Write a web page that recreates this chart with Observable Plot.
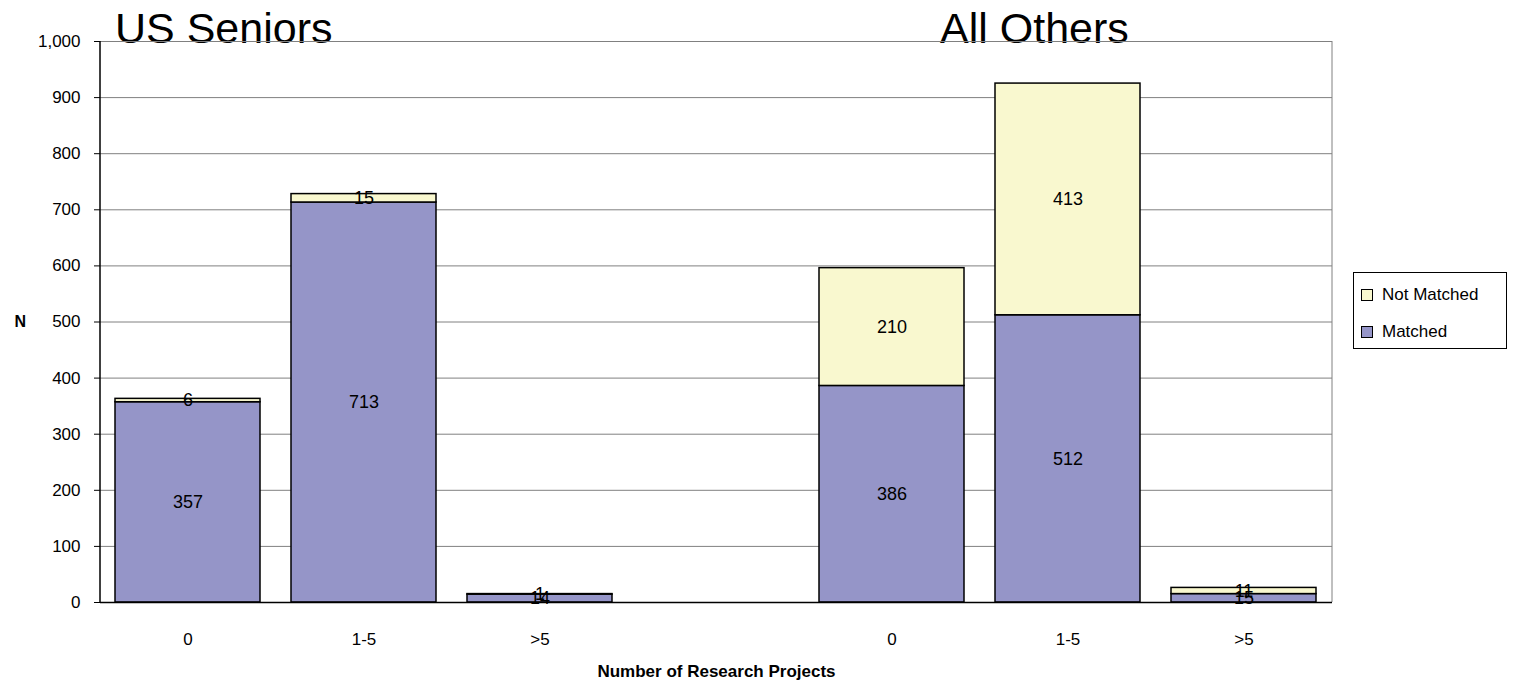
<!DOCTYPE html>
<html>
<head>
<meta charset="utf-8">
<script src="https://cdn.jsdelivr.net/npm/d3@7"></script>
<script src="https://cdn.jsdelivr.net/npm/@observablehq/plot@0.6"></script>
<style>
  html, body { margin: 0; padding: 0; background: #fff; }
  #wrap { position: relative; width: 1520px; height: 688px; font-family: "Liberation Sans", Arial, sans-serif; }
  #legend { position: absolute; left: 1353px; top: 272px; width: 154px; height: 77px; border: 1px solid #000; box-sizing: border-box; font-size: 17px; color: #000; }
  .item { position: absolute; left: 7px; display: flex; align-items: center; }
  .sw { width: 10px; height: 10px; border: 1.5px solid #000; margin-right: 9px; }
</style>
</head>
<body>
<div id="wrap">
  <div id="chart"></div>
  <div id="legend"></div>
</div>
<script>
const groups = ["US Seniors", "All Others"];
const projects = ["0", "1-5", ">5"];
const statuses = ["Matched", "Not Matched"];
const matchedUS = [357, 713, 14];
const notMatchedUS = [6, 15, 1];
const matchedAO = [386, 512, 15];
const notMatchedAO = [210, 413, 11];
const yTicks = [0, 100, 200, 300, 400, 500, 600, 700, 800, 900, 1000];
const colors = { "Matched": "#9595C8", "Not Matched": "#F9F8CF" };

const xDomain = [
  ...projects.map(p => `${groups[0]}|${p}`),
  "gap",
  ...projects.map(p => `${groups[1]}|${p}`)
];

const data = [];
projects.forEach((p, i) => {
  data.push({ key: `${groups[0]}|${p}`, status: "Matched", value: matchedUS[i] });
  data.push({ key: `${groups[0]}|${p}`, status: "Not Matched", value: notMatchedUS[i] });
  data.push({ key: `${groups[1]}|${p}`, status: "Matched", value: matchedAO[i] });
  data.push({ key: `${groups[1]}|${p}`, status: "Not Matched", value: notMatchedAO[i] });
});

const stackOpts = { x: "key", y: "value", z: "status", order: statuses };
const titleStyle = { y: () => 1000, textAnchor: "start", lineAnchor: "bottom", fontSize: 43, fill: "#000", dy: 1 };

const chart = Plot.plot({
  width: 1520,
  height: 688,
  marginLeft: 100,
  marginRight: 188,
  marginTop: 41,
  marginBottom: 86,
  style: { fontFamily: "Liberation Sans, Arial, sans-serif", fontSize: "17px", color: "#000", background: "#fff" },
  x: { type: "band", domain: xDomain, paddingInner: 0.175, paddingOuter: 0.0875, label: null },
  y: { domain: [0, 1000], label: null },
  color: { domain: statuses, range: statuses.map(s => colors[s]) },
  marks: [
    Plot.text([groups[0]], { ...titleStyle, x: () => xDomain[0], text: d => d, dx: -73 }),
    Plot.text([groups[1]], { ...titleStyle, x: () => xDomain[4], text: d => d, dx: 48 }),
    Plot.gridY(yTicks, { stroke: "#808080", strokeOpacity: 1, strokeWidth: 1 }),
    Plot.ruleX([xDomain[xDomain.length - 1]], { x: d => d, stroke: "#808080", dx: 88, y1: 0, y2: 1000 }),
    Plot.barY(data, Plot.stackY({ ...stackOpts, fill: "status", stroke: "#000", strokeWidth: 1.5 })),
    Plot.text(data, Plot.stackY({ ...stackOpts, text: "value", fill: "#000", fontSize: 18 })),
    Plot.ruleY([0], { stroke: "#000", strokeWidth: 1.5 }),
    Plot.axisY({ ticks: yTicks, tickFormat: d3.format(","), tickSize: 6, tickPadding: 14, fontSize: 17, label: null }),
    Plot.ruleX([xDomain[0]], { x: d => d, dx: -88, y1: 0, y2: 1000, stroke: "#000", strokeWidth: 1.5 }),
    Plot.axisX({ tickSize: 0, tickPadding: 30, fontSize: 17, tickFormat: d => d === "gap" ? "" : d.split("|")[1], label: null }),
    Plot.text(["N"], { frameAnchor: "left", dx: -86, fontWeight: "bold", fontSize: 16, fill: "#000" }),
    Plot.text(["Number of Research Projects"], { frameAnchor: "bottom", dy: 74, fontWeight: "bold", fontSize: 17, fill: "#000" })
  ]
});
document.getElementById("chart").appendChild(chart);

const legend = document.getElementById("legend");
["Not Matched", "Matched"].forEach((s, i) => {
  const it = document.createElement("div");
  it.className = "item";
  it.style.top = (12 + i * 37) + "px";
  const sw = document.createElement("div");
  sw.className = "sw";
  sw.style.background = colors[s];
  it.appendChild(sw);
  const t = document.createElement("span");
  t.textContent = s;
  it.appendChild(t);
  legend.appendChild(it);
});
</script>
</body>
</html>
